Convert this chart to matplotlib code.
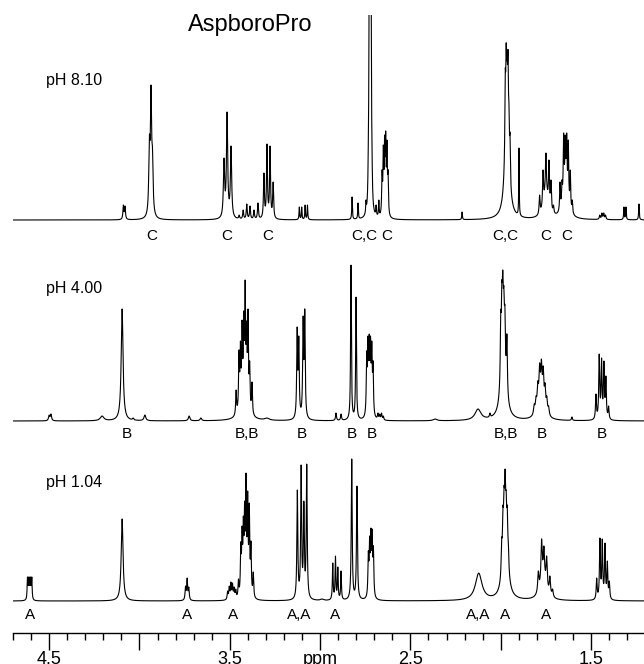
import numpy as np
import matplotlib.pyplot as plt

plt.rcParams['font.family'] = ['Liberation Sans', 'DejaVu Sans']

ph810_pos = [4.089, 4.080, 3.945, 3.936, 3.928, 3.532, 3.515, 3.493,
             3.448, 3.426, 3.406, 3.388, 3.366, 3.344,
             3.311, 3.294, 3.277, 3.260, 3.115, 3.102, 3.083, 3.070,
             2.823, 2.790, 2.746, 2.733, 2.728, 2.723, 2.718, 2.713,
             2.690, 2.675, 2.657, 2.650, 2.643, 2.637, 2.630, 2.624,
             2.214, 1.975, 1.970, 1.965, 1.960, 1.955, 1.949,
             1.899, 1.785, 1.766, 1.750, 1.733, 1.722, 1.708,
             1.672, 1.661, 1.652, 1.643, 1.635, 1.626, 1.615, 1.604,
             1.452, 1.440, 1.430, 1.420, 1.318, 1.307, 1.235]
ph810_h = [15, 14, 85, 135, 73, 62, 108, 74,
           5, 10, 16, 14, 10, 17,
           47, 76, 74, 38, 13, 13, 15, 15,
           23, 17, 20, 80, 260, 300, 260, 80,
           15, 20, 50, 75, 85, 89, 80, 50,
           8, 150, 177, 165, 170, 120, 87,
           72, 25, 50, 67, 60, 40, 15,
           38, 40, 87, 85, 87, 80, 50, 20,
           5, 7, 7, 5, 13, 13, 16]
ph810_w = [0.003] * 2 + [0.004] * 3 + [0.004] * 3 + [0.003] * 6 \
          + [0.003] * 4 + [0.002] * 4 + [0.002] * 3 + [0.0025] * 5 \
          + [0.002] * 2 + [0.0025] * 6 + [0.002] + [0.0025] * 6 \
          + [0.0015] + [0.003] * 6 + [0.0025] * 8 + [0.003] * 4 + [0.002] * 3
# broad humps under the multiplets: shift, amplitude, half width
ph810_bpos = [1.966, 1.750, 1.642]
ph810_bh = [95, 25, 30]
ph810_bw = [0.013, 0.016, 0.016]

ph400_pos = [4.500, 4.490, 4.207, 4.096, 4.035, 3.970, 3.725, 3.660,
             3.465, 3.449, 3.441, 3.432, 3.423, 3.415, 3.407, 3.399, 3.390, 3.377,
             3.294, 3.127, 3.118, 3.094, 3.085, 2.912, 2.884, 2.829, 2.801,
             2.742, 2.735, 2.728, 2.721, 2.714, 2.707, 2.680, 2.670, 2.660, 2.650,
             2.364, 2.060, 2.000, 1.994, 1.989, 1.983, 1.977, 1.966,
             1.815, 1.805, 1.795, 1.785, 1.775, 1.765, 1.755, 1.745, 1.735, 1.606,
             1.473, 1.455, 1.442, 1.429, 1.418, 1.403]
ph400_h = [6, 7, 5, 112, 3, 6, 5, 3,
           31, 71, 80, 101, 110, 141, 100, 112, 60, 39,
           3, 94, 85, 105, 112, 8, 7, 156, 124,
           70, 85, 87, 85, 80, 60, 8, 7, 8, 5,
           2, 8, 110, 140, 151, 135, 115, 87,
           17, 25, 40, 58, 62, 55, 38, 25, 15, 4,
           27, 67, 63, 60, 45, 15]
ph400_w = [0.004] * 2 + [0.012, 0.006, 0.004, 0.006, 0.005, 0.005] \
          + [0.0028] * 10 \
          + [0.015] + [0.003] * 4 + [0.003] * 2 + [0.0025] * 2 \
          + [0.0028] * 6 + [0.003] * 4 \
          + [0.012, 0.003] + [0.003] * 6 \
          + [0.004] * 9 + [0.003] \
          + [0.003] * 6
ph400_bpos = [3.420, 2.126, 1.985, 1.778]
ph400_bh = [10, 11, 75, 20]
ph400_bw = [0.03, 0.02, 0.014, 0.02]

ph104_pos = [4.620, 4.614, 4.608, 4.602, 4.596, 4.096, 3.745, 3.736, 3.727,
             3.512, 3.503, 3.494, 3.485, 3.476, 3.467,
             3.452, 3.439, 3.432, 3.425, 3.418, 3.410, 3.401, 3.392, 3.383, 3.370,
             3.126, 3.105, 3.090, 3.074, 2.990,
             2.930, 2.915, 2.902, 2.884, 2.825, 2.796,
             2.733, 2.726, 2.719, 2.712, 2.705,
             1.995, 1.988, 1.982, 1.976, 1.970, 1.964, 1.958,
             1.792, 1.774, 1.761, 1.746, 1.728, 1.713,
             1.469, 1.451, 1.438, 1.423, 1.410, 1.399]
ph104_h = [24, 24, 24, 24, 24, 82, 15, 23, 14,
           10, 15, 19, 18, 14, 12,
           22, 59, 75, 85, 100, 128, 110, 98, 60, 29,
           111, 136, 100, 137, 2,
           38, 45, 34, 30, 142, 115,
           50, 65, 73, 72, 55,
           63, 95, 115, 132, 110, 95, 60,
           30, 62, 55, 45, 25, 12,
           23, 63, 62, 58, 40, 20]
ph104_w = [0.0022] * 5 + [0.006] + [0.003] * 3 \
          + [0.003] * 6 \
          + [0.0028] * 10 \
          + [0.003] * 4 + [0.01] \
          + [0.0025] * 4 + [0.003] * 2 \
          + [0.0028] * 5 \
          + [0.003] * 7 \
          + [0.004] * 6 \
          + [0.003] * 6
ph104_bpos = [2.122, 1.975, 1.765]
ph104_bh = [27, 65, 20]
ph104_bw = [0.022, 0.015, 0.02]

ph_text = ['pH 8.10', 'pH 4.00', 'pH 1.04']

c_text = ['C', 'C', 'C', 'C,C', 'C', 'C,C', 'C', 'C']
c_pos = [3.930, 3.515, 3.288, 2.757, 2.630, 1.972, 1.750, 1.633]
b_text = ['B', 'B,B', 'B', 'B', 'B', 'B,B', 'B', 'B']
b_pos = [4.068, 3.404, 3.100, 2.823, 2.713, 1.971, 1.772, 1.440]
a_text = ['A', 'A', 'A', 'A,A', 'A', 'A,A', 'A', 'A']
a_pos = [4.605, 3.736, 3.482, 3.116, 2.917, 2.126, 1.976, 1.750]

xtick_vals = [4.5, 4.0, 3.5, 3.0, 2.5, 2.0, 1.5]
xtick_text = ['4.5', '', '3.5', 'ppm', '2.5', '', '1.5']


def lorentz(x, p, a, w):
    return a * w ** 2 / ((x - p) ** 2 + w ** 2)


def spectrum(x, pos, height, hw, bpos, bh, bw):
    pos, height, hw = np.array(pos), np.array(height, float), np.array(hw)
    broad = sum(lorentz(x, p, a, w) for p, a, w in zip(bpos, bh, bw))
    broad_at = sum(lorentz(pos, p, a, w) for p, a, w in zip(bpos, bh, bw))
    # amplitudes so that the summed lines reach the observed heights
    m = hw[None, :] ** 2 / ((pos[:, None] - pos[None, :]) ** 2 + hw[None, :] ** 2)
    amp = np.clip(np.linalg.solve(m, height - broad_at), 0, None)
    y = broad + sum(lorentz(x, p, a, w) for p, a, w in zip(pos, amp, hw))
    return y


fig = plt.figure(figsize=(6.44, 6.64), dpi=100)
ax = fig.add_axes([13 / 644, 31 / 664, 631 / 644, 618 / 664])

x = np.linspace(4.70, 1.20, 16000)
bases = [413, 212, 32]
peaks = [(ph810_pos, ph810_h, ph810_w, ph810_bpos, ph810_bh, ph810_bw),
         (ph400_pos, ph400_h, ph400_w, ph400_bpos, ph400_bh, ph400_bw),
         (ph104_pos, ph104_h, ph104_w, ph104_bpos, ph104_bh, ph104_bw)]
for base, pk in zip(bases, peaks):
    ax.plot(x, base + spectrum(x, *pk), color='black', lw=0.8)

ax.set_xlim(4.70, 1.207)
ax.set_ylim(0, 618)

ax.text(3.388, 608, 'AspboroPro', fontsize=17, ha='center', va='center')
for txt, yy in zip(ph_text, [553, 345, 150]):
    ax.text(4.517, yy, txt, fontsize=11.5, ha='left', va='center')
for texts, poss, yy in [(c_text, c_pos, 397), (b_text, b_pos, 199), (a_text, a_pos, 18)]:
    for t, p in zip(texts, poss):
        ax.text(p, yy, t, fontsize=11, ha='center', va='center')

for s in ['top', 'left', 'right']:
    ax.spines[s].set_visible(False)
ax.spines['bottom'].set_linewidth(1.0)
ax.set_yticks([])
ax.set_xticks(xtick_vals)
ax.set_xticklabels(xtick_text)
ax.set_xticks(np.arange(4.7, 1.25, -0.1), minor=True)
ax.tick_params(axis='x', which='major', length=12, width=1, labelsize=13, pad=1)
ax.tick_params(axis='x', which='minor', length=5, width=1)

fig.savefig('out.png', dpi=100)
